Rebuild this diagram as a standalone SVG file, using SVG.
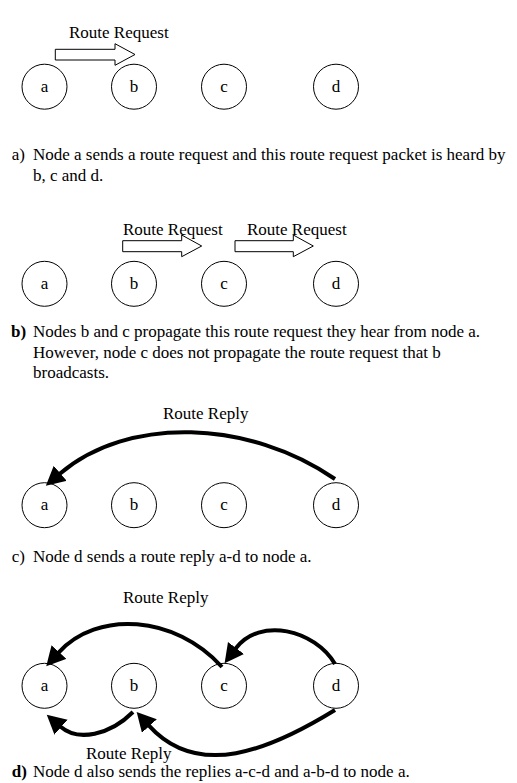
<svg xmlns="http://www.w3.org/2000/svg" width="517" height="783" viewBox="0 0 517 783">
<style>
  text { font-family: "Liberation Serif", "Times New Roman", serif; fill: #000; }
  .lbl { font-size: 17px; }
  .cap { font-size: 17px; }
  .b { font-weight: bold; }
  .node circle { fill: none; stroke: #000; stroke-width: 1; }
  .node text { font-size: 17px; text-anchor: middle; }
  .blk { fill: none; stroke: #000; stroke-width: 1; }
  .rep { fill: none; stroke: #000; stroke-width: 4; marker-end: url(#ah); }
</style>
<defs>
  <marker id="ah" markerUnits="userSpaceOnUse" markerWidth="22" markerHeight="22" refX="1" refY="10" orient="auto">
    <path d="M0,0 L19,10 L0,20 z" fill="#000"/>
  </marker>
</defs>
<rect width="517" height="783" fill="#fff"/>

<!-- Section a -->
<g id="a1" class="node"><circle cx="44.5" cy="86.7" r="22.5"/><text x="44.5" y="91.7">a</text></g>
<g id="b1" class="node"><circle cx="134" cy="86.7" r="22.5"/><text x="134" y="91.7">b</text></g>
<g id="c1" class="node"><circle cx="224" cy="86.7" r="22.5"/><text x="224" y="91.7">c</text></g>
<g id="d1" class="node"><circle cx="336" cy="86.7" r="22.5"/><text x="336" y="91.7">d</text></g>

<!-- Section b -->
<g id="a2" class="node"><circle cx="44.5" cy="283.8" r="22.5"/><text x="44.5" y="288.8">a</text></g>
<g id="b2" class="node"><circle cx="134" cy="283.8" r="22.5"/><text x="134" y="288.8">b</text></g>
<g id="c2" class="node"><circle cx="224" cy="283.8" r="22.5"/><text x="224" y="288.8">c</text></g>
<g id="d2" class="node"><circle cx="336" cy="283.8" r="22.5"/><text x="336" y="288.8">d</text></g>

<!-- Section c -->
<g id="a3" class="node"><circle cx="44.5" cy="505.2" r="22.5"/><text x="44.5" y="510.2">a</text></g>
<g id="b3" class="node"><circle cx="134" cy="505.2" r="22.5"/><text x="134" y="510.2">b</text></g>
<g id="c3" class="node"><circle cx="224" cy="505.2" r="22.5"/><text x="224" y="510.2">c</text></g>
<g id="d3" class="node"><circle cx="336" cy="505.2" r="22.5"/><text x="336" y="510.2">d</text></g>

<!-- Section d -->
<g id="a4" class="node"><circle cx="44.5" cy="685.8" r="22.5"/><text x="44.5" y="690.8">a</text></g>
<g id="b4" class="node"><circle cx="134" cy="685.8" r="22.5"/><text x="134" y="690.8">b</text></g>
<g id="c4" class="node"><circle cx="224" cy="685.8" r="22.5"/><text x="224" y="690.8">c</text></g>
<g id="d4" class="node"><circle cx="336" cy="685.8" r="22.5"/><text x="336" y="690.8">d</text></g>

<g id="connectors">
  <polygon class="blk" points="55.3,49.3 115,49.3 115,43.7 135,54.5 115,65.3 115,60 55.3,60"/>
  <polygon class="blk" points="122.7,240.7 181.7,240.7 181.7,235 201.7,246 181.7,256.7 181.7,251.7 122.7,251.7"/>
  <polygon class="blk" points="235,240.7 293.3,240.7 293.3,235 313.3,246 293.3,256.7 293.3,251.7 235,251.7"/>
  <path class="rep" d="M335,479 C250,420 128,415 59.5,474"/>
  <path class="rep" d="M222,667 C175,615 97,610 58.3,652.8"/>
  <path class="rep" d="M335,664 C315,630 260,616 235.4,648.8"/>
  <path class="rep" d="M133,712 C110,735 78,742 60.3,726.5"/>
  <path class="rep" d="M335,710 C270,750 198,780 148.7,725.3"/>
</g>

<g id="labels">
  <text class="lbl" x="69" y="37.5">Route Request</text>
  <text class="lbl" x="123" y="234.5">Route Request</text>
  <text class="lbl" x="247" y="234.5">Route Request</text>
  <text class="lbl" x="163" y="419">Route Reply</text>
  <text class="lbl" x="123" y="603">Route Reply</text>
  <text class="lbl" x="86" y="758.5">Route Reply</text>
</g>

<g id="captions">
  <text class="cap" x="11.7" y="160">a)</text>
  <text class="cap" x="33" y="160">Node a sends a route request and this route request packet is heard by</text>
  <text class="cap" x="33" y="181">b, c and d.</text>

  <text class="cap b" x="11" y="337">b)</text>
  <text class="cap" x="33" y="337">Nodes b and c propagate this route request they hear from node a.</text>
  <text class="cap" x="33" y="357.5">However, node c does not propagate the route request that b</text>
  <text class="cap" x="33" y="378">broadcasts.</text>

  <text class="cap" x="11.7" y="562">c)</text>
  <text class="cap" x="33" y="562">Node d sends a route reply a-d to node a.</text>

  <text class="cap b" x="11.7" y="776.5">d)</text>
  <text class="cap" x="33" y="776.5">Node d also sends the replies a-c-d and a-b-d to node a.</text>
</g>
</svg>
